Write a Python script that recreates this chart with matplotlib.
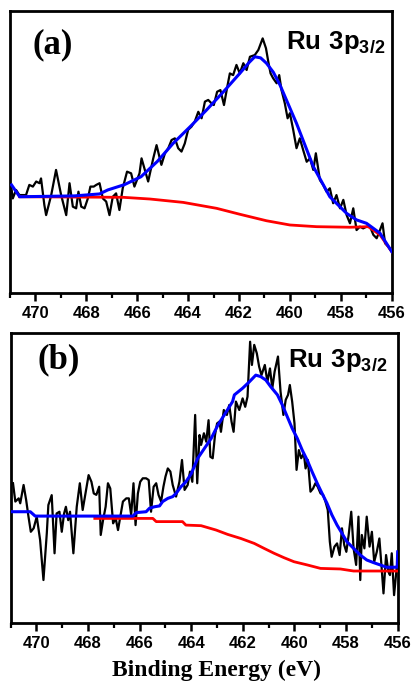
import matplotlib
matplotlib.use("Agg")
import matplotlib.pyplot as plt
from matplotlib.ticker import MultipleLocator

plt.rcParams['mathtext.fontset'] = 'custom'
plt.rcParams['mathtext.bf'] = 'Liberation Sans:bold'
plt.rcParams['mathtext.rm'] = 'Liberation Sans:bold'

# ---------------- panel (a) ----------------
a_raw_x = [470.96, 470.89, 470.76, 470.63, 470.37, 470.24, 470.10, 469.97, 469.84, 469.78,
           469.65, 469.58, 469.38, 469.19, 468.99, 468.79, 468.66, 468.53, 468.40, 468.31,
           468.20, 468.07, 467.94, 467.84, 467.71, 467.61, 467.48, 467.35, 467.22, 467.09,
           466.96, 466.83, 466.70, 466.57, 466.40, 466.24, 466.11, 465.91, 465.83, 465.70,
           465.57, 465.37, 465.24, 465.05, 464.91, 464.78, 464.65, 464.52, 464.39, 464.26,
           464.13, 464.00, 463.87, 463.74, 463.60, 463.47, 463.34, 463.21, 463.08, 462.99,
           462.86, 462.73, 462.59, 462.46, 462.36, 462.23, 462.10, 461.97, 461.83, 461.70,
           461.57, 461.38, 461.24, 461.07, 460.94, 460.85, 460.76, 460.66, 460.52, 460.42,
           460.33, 460.20, 460.09, 460.00, 459.87, 459.74, 459.61, 459.48, 459.34, 459.21,
           459.08, 458.98, 458.82, 458.69, 458.56, 458.43, 458.30, 458.17, 458.03, 457.90,
           457.77, 457.64, 457.51, 457.38, 457.25, 457.12, 456.99, 456.85, 456.72, 456.59,
           456.46, 456.36, 456.26, 456.13, 456.00]
a_raw_y = [38.4, 33.6, 36.6, 34.8, 34.8, 38.4, 37.8, 39.6, 39.0, 40.7,
           31.3, 27.7, 34.8, 43.7, 34.8, 27.7, 39.0, 30.7, 30.1, 36.0,
           30.7, 30.1, 33.6, 37.8, 37.8, 38.4, 39.0, 33.6, 32.5, 27.7,
           34.2, 35.4, 29.5, 37.2, 43.1, 42.5, 37.8, 42.5, 47.8, 43.7,
           39.6, 47.8, 52.5, 45.5, 49.6, 51.4, 54.3, 54.9, 51.4, 50.2,
           53.1, 57.9, 59.0, 60.8, 64.3, 62.0, 67.9, 68.5, 67.3, 66.7,
           71.4, 72.0, 66.7, 73.2, 77.9, 77.3, 80.9, 77.9, 81.5, 79.1,
           83.8, 84.4, 86.2, 90.3, 86.8, 82.1, 77.9, 76.2, 74.4, 77.3,
           72.0, 67.3, 62.0, 63.8, 57.9, 51.4, 54.9, 50.8, 46.6, 47.8,
           43.7, 49.6, 40.1, 38.4, 36.0, 37.2, 31.9, 34.8, 30.1, 33.1,
           27.7, 24.8, 30.1, 22.4, 23.6, 23.0, 23.6, 23.6, 20.7, 19.5,
           22.4, 24.8, 17.7, 16.5, 14.8]

a_fit_x = [470.94, 470.62, 468.47, 467.48, 467.16, 466.50, 465.85, 465.20, 464.59, 463.90,
           463.28, 462.60, 461.97, 461.60, 461.38, 461.15, 460.92, 460.65, 460.39, 459.74,
           459.08, 458.43, 457.77, 457.38, 456.99, 456.46, 456.00]
a_fit_y = [38.4, 34.2, 34.5, 35.2, 36.6, 38.5, 41.3, 46.8, 53.1, 59.2,
           64.9, 71.5, 77.9, 81.8, 83.8, 83.4, 81.5, 78.3, 73.8, 60.2,
           44.9, 34.2, 28.3, 26.0, 24.8, 21.3, 14.8]

a_bg_x = [470.62, 466.55, 465.50, 464.19, 462.88, 461.97, 460.92, 460.00, 458.95, 457.64,
          456.92, 456.46, 456.00]
a_bg_y = [34.2, 34.0, 33.4, 32.2, 30.1, 28.0, 25.7, 24.2, 23.6, 23.4,
          23.6, 20.7, 14.8]

# ---------------- panel (b) ----------------
b_raw_x = [470.91, 470.82, 470.69, 470.63, 470.50, 470.40, 470.31, 470.22, 470.11, 469.99,
           469.86, 469.73, 469.60, 469.54, 469.41, 469.30, 469.22, 469.11, 469.02, 468.93,
           468.86, 468.77, 468.70, 468.57, 468.44, 468.32, 468.21, 468.09, 467.98, 467.87,
           467.78, 467.68, 467.57, 467.51, 467.42, 467.32, 467.23, 467.14, 467.03, 466.93,
           466.84, 466.75, 466.65, 466.52, 466.42, 466.33, 466.24, 466.16, 466.07, 465.98,
           465.88, 465.75, 465.65, 465.56, 465.46, 465.36, 465.27, 465.17, 465.08, 465.00,
           464.91, 464.81, 464.72, 464.59, 464.46, 464.36, 464.26, 464.14, 464.05, 463.96,
           463.85, 463.77, 463.68, 463.62, 463.51, 463.42, 463.33, 463.26, 463.17, 463.08,
           463.00, 462.91, 462.85, 462.74, 462.62, 462.53, 462.44, 462.36, 462.27, 462.14,
           462.01, 461.91, 461.82, 461.72, 461.65, 461.56, 461.46, 461.37, 461.28, 461.15,
           461.05, 460.95, 460.86, 460.77, 460.64, 460.54, 460.43, 460.34, 460.25, 460.18,
           460.09, 460.00, 459.92, 459.83, 459.74, 459.64, 459.57, 459.48, 459.38, 459.28,
           459.19, 459.10, 458.99, 458.89, 458.80, 458.71, 458.63, 458.56, 458.45, 458.35,
           458.25, 458.16, 458.07, 457.99, 457.90, 457.80, 457.71, 457.61, 457.52, 457.45,
           457.39, 457.29, 457.20, 457.09, 457.00, 456.91, 456.81, 456.71, 456.62, 456.55,
           456.45, 456.36, 456.30, 456.23, 456.14, 456.04, 455.98]
b_raw_y = [48.2, 41.9, 43.0, 41.3, 47.6, 42.4, 36.7, 31.5, 32.7, 36.7,
           28.7, 14.9, 31.0, 40.7, 44.1, 24.1, 37.8, 38.4, 31.5, 37.8,
           40.1, 35.5, 38.4, 24.1, 40.1, 48.2, 39.0, 45.3, 51.0, 48.7,
           44.7, 44.2, 47.0, 30.4, 35.5, 40.1, 48.2, 46.4, 34.4, 36.1,
           32.1, 36.7, 41.9, 43.0, 43.0, 37.3, 48.2, 33.8, 44.7, 48.7,
           49.9, 49.9, 49.3, 38.4, 47.0, 48.2, 44.2, 41.9, 47.0, 50.5,
           53.3, 52.2, 47.6, 43.6, 48.7, 56.2, 45.9, 47.6, 52.2, 48.7,
           71.7, 48.2, 64.8, 61.4, 65.4, 62.5, 69.9, 57.3, 56.8, 64.8,
           68.8, 69.4, 65.9, 73.4, 71.7, 75.1, 69.4, 65.9, 76.3, 73.4,
           77.4, 74.5, 78.0, 96.9, 88.9, 95.8, 92.9, 88.3, 85.4, 88.9,
           83.1, 87.7, 80.9, 86.6, 91.8, 79.7, 71.7, 76.9, 78.6, 82.0,
           76.3, 68.8, 52.8, 59.6, 56.8, 58.5, 53.3, 56.2, 45.3, 46.4,
           48.2, 47.0, 44.7, 44.2, 41.9, 39.0, 28.1, 22.9, 26.4, 27.5,
           23.5, 32.7, 26.9, 24.6, 30.4, 38.4, 25.8, 20.1, 36.7, 14.9,
           30.4, 25.8, 36.7, 26.4, 31.5, 21.2, 24.6, 29.2, 18.9, 10.3,
           23.5, 17.8, 16.6, 24.1, 9.7, 18.9, 20.1]

b_fit_x = [470.95, 470.24, 470.05, 466.26, 466.13, 465.75, 465.62, 465.43, 465.23, 465.11,
           464.91, 464.72, 464.59, 464.40, 464.21, 464.00, 463.75, 463.49, 463.23, 462.97,
           462.72, 462.40, 462.33, 462.01, 461.75, 461.50, 461.31, 461.11, 460.92, 460.66,
           460.47, 460.28, 460.09, 459.89, 459.70, 459.51, 459.32, 459.12, 458.93, 458.74,
           458.55, 458.35, 458.16, 457.97, 457.71, 457.45, 457.20, 456.94, 456.68, 456.43,
           456.10, 456.02, 456.00]
b_fit_y = [38.4, 38.4, 36.9, 36.9, 38.1, 38.4, 39.6, 40.1, 40.4, 41.9,
           43.0, 43.6, 44.7, 47.0, 48.7, 51.5, 56.8, 60.2, 63.6, 68.2,
           71.7, 76.3, 78.6, 80.9, 83.1, 85.4, 84.9, 83.7, 81.4, 78.6,
           75.1, 71.1, 67.1, 63.6, 59.6, 56.2, 52.2, 48.2, 44.7, 41.3,
           37.3, 33.8, 31.0, 28.1, 25.8, 23.5, 21.8, 20.9, 20.1, 19.3,
           19.3, 19.3, 24.6]

b_bg_x = [467.74, 465.49, 465.36, 464.34, 464.21, 463.62, 463.04, 462.59, 462.08, 461.56,
          461.18, 460.79, 460.41, 460.02, 459.51, 458.99, 458.22, 457.71, 456.00]
b_bg_y = [36.1, 36.1, 35.0, 35.0, 33.8, 33.6, 32.1, 30.6, 29.2, 27.5,
          25.8, 24.1, 22.6, 21.2, 20.1, 18.9, 18.7, 18.0, 18.0]

x_ticks = [470, 468, 466, 464, 462, 460, 458, 456]

fig = plt.figure(figsize=(4.11, 6.84), dpi=100)
ax1 = fig.add_axes([0.0243, 0.5712, 0.9287, 0.4127])
ax2 = fig.add_axes([0.0260, 0.0887, 0.9416, 0.4249])

panels = [
    (ax1, a_raw_x, a_raw_y, a_fit_x, a_fit_y, a_bg_x, a_bg_y, '(a)', (0.058, 0.88), (0.982, 0.935)),
    (ax2, b_raw_x, b_raw_y, b_fit_x, b_fit_y, b_bg_x, b_bg_y, '(b)', (0.068, 0.905), (0.972, 0.952)),
]

for ax, rx, ry, fx, fy, bx, by, lab, labpos, rupos in panels:
    ax.plot(rx, ry, color='black', lw=1.6, zorder=2)
    ax.plot(bx, by, color='#ff0000', lw=2.0, zorder=3)
    ax.plot(fx, fy, color='#0000ff', lw=2.2, zorder=4)
    ax.set_xlim(471, 456)
    ax.set_ylim(0, 100)
    ax.set_yticks([])
    ax.set_xticks(x_ticks)
    ax.xaxis.set_minor_locator(MultipleLocator(1))
    ax.tick_params(axis='x', which='major', direction='out', length=6, width=1.8, pad=3)
    ax.tick_params(axis='x', which='minor', direction='out', length=3.5, width=1.6)
    for lbl in ax.get_xticklabels():
        lbl.set_fontfamily('Liberation Sans')
        lbl.set_fontweight('bold')
        lbl.set_fontsize(12)
    for sp in ax.spines.values():
        sp.set_linewidth(2.0)
    ax.text(labpos[0], labpos[1], lab, transform=ax.transAxes, ha='left', va='center',
            fontfamily='Liberation Serif', fontweight='bold', fontsize=25)
    ax.text(rupos[0], rupos[1], r'$\mathbf{Ru\ 3p_{3/2}}$', transform=ax.transAxes,
            ha='right', va='top', fontsize=18.5)

fig.text(216 / 411, 0.012, 'Binding Energy (eV)', ha='center', va='baseline',
         fontfamily='Liberation Serif', fontweight='bold', fontsize=17)

fig.savefig('out.png', dpi=100)
